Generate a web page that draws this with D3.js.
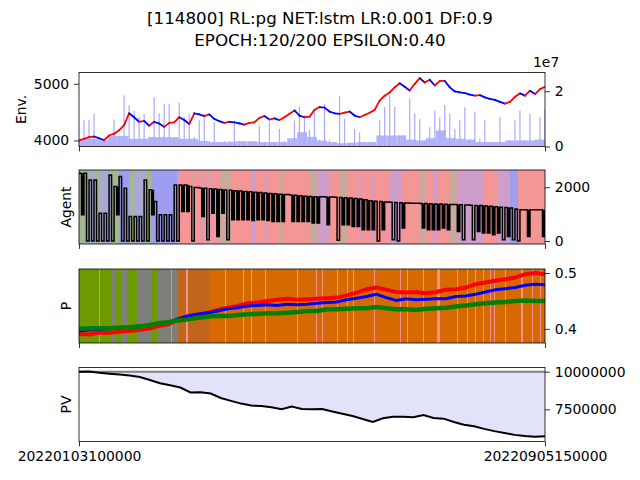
<!DOCTYPE html>
<html>
<head>
<meta charset="utf-8">
<script src="https://cdn.jsdelivr.net/npm/d3@7"></script>
<style>
  body { margin: 0; background: #fff; }
  text { font-family: "DejaVu Sans", sans-serif; }
</style>
</head>
<body>
<svg id="chart" width="640" height="480"></svg>
<script>
// ---- data ----
const titleLines = ["[114800] RL:pg NET:lstm LR:0.001 DF:0.9", "EPOCH:120/200 EPSILON:0.40"];
const dateLabels = ["20220103100000", "20220905150000"];
const STEPS = 466;

// Env. panel: close price and volume (millions)
const price = [4000,4030,4058,4070,4040,4005,4088,4120,4180,4270,4480,4410,4330,4345,4260,4330,4300,4240,4310,4320,
  4410,4360,4290,4480,4460,4430,4460,4380,4340,4310,4330,4320,4300,4280,4310,4320,4400,4430,4370,4390,
  4360,4410,4470,4530,4440,4410,4420,
  4540,4590,4580,4510,4480,4468,4490,4510,4440,4410,4450,4490,4540,4702,4789,4848,4936,5010,4947,4880,
  5000,5100,5023,5070,4970,5050,5050,4936,4865,4848,4835,4810,4790,4800,4760,4735,4715,4680,4650,4680,
  4770,4830,4790,4877,4819,4906,4947];
const volume = [2.5,9.5,9.5,11.9,2.5,2.0,3.5,9.8,4.0,18.5,14.9,13.0,10.7,11.9,3.5,17.9,12.0,15.5,15.5,3.0,
  15.8,10.7,11.9,3.5,9.5,11.9,2.0,8.8,1.5,2.0,1.5,8.2,2.0,1.5,2.0,1.5,7.6,1.5,8.8,1.5,
  6.4,2.0,2.0,9.5,14.5,11.3,6.0,12.5,2.5,15.5,2.5,1.2,18.2,10.0,1.2,6.3,5.1,1.5,1.5,1.5,
  9.5,14.3,18.5,14.3,4.0,4.0,17.4,11.9,10.0,2.2,7.0,13.0,10.6,15.0,12.0,6.4,9.5,14.2,2.8,12.5,
  2.8,9.5,1.5,1.5,10.6,1.5,2.2,9.5,13.0,2.2,11.9,2.2,10.6,13.3];
const volumeBase = [2.8,2.8,2.2,3.8,3.8,2.8,2.8,3.4,3.4,3.4,2.8,2.8,2.0,1.6,1.6,1.8,1.9,1.9,1.6,1.6,
  1.6,3.0,5.2,3.5,2.2,1.6,1.2,1.4,1.6,1.6,4.0,4.0,4.0,2.5,2.2,3.0,5.8,3.0,2.8,2.5,
  1.6,1.6,1.6,2.2,2.2,2.2,2.5];

// Agent panel: holdings, upper level and dips per column (null = no dip)
const agentHi = [2519,2519,2272,2272,1037,1037,2457,2025,2395,1963,914,914,914,2272,1902,1469,975,975,975,2087,
  2087,2087,2025,1988,1974,1959,1945,1930,1916,1901,1886,1872,1857,1843,1828,1814,1800,1785,1770,1756,
  1741,1727,1712,1698,1683,1669,1654,1650,1645,1640,1632,1625,1615,1605,1595,1580,1560,1530,1500,1475,
  1465,1455,1445,1435,1425,1415,1407,1402,1396,1391,1386,1380,1375,1370,1362,1355,1347,1340,1332,1325,
  1318,1305,1290,1275,1260,1245,1225,1190,1160,1160,1160,1160,1160];
const agentLo = [975,0,0,0,0,0,0,975,0,0,0,0,0,0,975,0,0,0,0,0,
  1099,1099,0,null,914,49,1037,173,1037,49,790,790,790,790,760,790,790,760,728,728,
  728,null,728,728,728,728,667,667,null,605,null,25,605,605,543,543,420,420,420,0,
  420,null,49,0,482,null,null,null,482,420,420,420,482,420,null,358,49,null,49,358,
  296,296,235,296,49,173,49,0,null,173,null,null,173];
// action regime behind the agent line: [startStep, endStep, key]
const agentBg = [[0,10,"g"],[10,17,"n"],[17,20,"g"],[20,33,"n"],[33,40,"g"],[40,50,"b"],[50,55,"g"],[55,67,"n"],
  [67,72,"g"],[72,98,"b"],[98,100,"p"],[100,113,"r"],[113,115,"m"],[115,122,"r"],[122,124,"p"],[124,131,"r"],
  [131,133,"p"],[133,140,"r"],[140,152,"m"],[152,173,"r"],[173,177,"p"],[177,186,"r"],[186,188,"p"],[188,200,"r"],
  [200,205,"m"],[205,231,"r"],[231,238,"m"],[238,251,"p"],[251,261,"r"],[261,268,"m"],[268,280,"r"],[280,283,"p"],
  [283,292,"r"],[292,295,"p"],[295,311,"r"],[311,323,"p"],[323,341,"r"],[341,346,"m"],[346,355,"r"],[355,358,"p"],
  [358,371,"r"],[371,378,"m"],[378,404,"p"],[404,418,"r"],[418,431,"p"],[431,439,"b"],[439,466,"r"]];

// P panel: three probabilities
const probRed = [0.391,0.390,0.393,0.393,0.395,0.396,0.398,0.400,0.405,0.408,0.417,0.423,0.426,0.429,0.434,0.438,
  0.441,0.446,0.447,0.450,0.452,0.454,0.452,0.453,0.454,0.455,0.456,0.460,0.465,0.471,0.474,0.470,
  0.466,0.465,0.466,0.464,0.466,0.470,0.471,0.474,0.480,0.483,0.486,0.489,0.492,0.498,0.500,0.498];
const probBlue = [0.396,0.398,0.399,0.400,0.402,0.403,0.405,0.407,0.410,0.412,0.418,0.423,0.426,0.429,0.432,0.436,
  0.438,0.441,0.442,0.443,0.442,0.444,0.443,0.444,0.446,0.447,0.448,0.452,0.455,0.458,0.462,0.456,
  0.451,0.454,0.452,0.453,0.454,0.454,0.458,0.459,0.462,0.466,0.470,0.472,0.474,0.478,0.480,0.479];
const probGreen = [0.400,0.401,0.401,0.401,0.402,0.403,0.404,0.406,0.410,0.412,0.415,0.417,0.420,0.422,0.423,0.423,
  0.425,0.426,0.427,0.428,0.428,0.429,0.430,0.432,0.432,0.435,0.435,0.436,0.437,0.437,0.439,0.437,
  0.435,0.435,0.434,0.436,0.437,0.438,0.440,0.442,0.444,0.446,0.447,0.448,0.450,0.451,0.450,0.450];
const probBg = [[0,20,"G"],[20,21,"L"],[21,32,"G"],[32,37,"Y"],[37,42,"G"],[42,48,"Y"],[48,58,"G"],[58,72,"Y"],
  [72,78,"G"],[78,92,"Y"],[92,93,"L"],[93,98,"Y"],[98,107,"B"],[107,109,"K"],[109,130,"B"],[130,466,"O"]];
const probPink = [[146,147],[164,165],[172,173],[186,187],[218,219],[237,238],[243,244],[258,259],[268,269],
  [274,275],[295,296],[321,322],[328,329],[344,345],[358,361],[378,379],[388,389],[396,397],[404,405],
  [411,412],[415,416],[426,427],[442,444],[453,454],[461,462]];

// PV panel: portfolio value (millions) and start value
const pv = [10.0,10.02,9.93,9.87,9.81,9.75,9.65,9.45,9.23,9.1,8.95,8.62,8.64,8.55,8.25,8.06,7.88,7.75,7.72,7.64,
  7.5,7.68,7.52,7.5,7.52,7.35,7.2,7.05,6.86,6.66,6.9,7.0,7.0,6.98,7.12,6.92,6.88,6.66,6.47,6.38,
  6.2,6.05,5.93,5.8,5.72,5.67,5.71];
const pvStart = 10.0;

// ---- drawing ----
const agentColors = { g: "#a2b88e", b: "#9e9def", r: "#f49696", m: "#c9a99b", p: "#cf9dc9", n: "#a8aad0" };
const probColors = { G: "#6c9a00", Y: "#7f7f7a", O: "#d66a00", K: "#f4908f", B: "#c0661c", L: "#8aaed0" };

const svg = d3.select("#chart");
const left = 79, right = 545;
const panels = [
  { top: 72.5, bot: 146.5 },
  { top: 170, bot: 244 },
  { top: 269, bot: 343 },
  { top: 367.5, bot: 441.5 },
];
const FS = "13.9px";
const x = d3.scaleLinear().domain([0, STEPS]).range([left, right]);
const at = (i, n) => x((i * STEPS) / (n - 1));

svg.selectAll("text.title")
  .data(titleLines)
  .join("text")
  .attr("class", "title")
  .attr("x", 320)
  .attr("y", (d, i) => 24 + i * 22)
  .attr("text-anchor", "middle")
  .style("font-size", "16.7px")
  .text((d) => d);

panels.forEach((p, i) => {
  svg.append("clipPath").attr("id", "clip" + i)
    .append("rect").attr("x", left).attr("y", p.top).attr("width", right - left).attr("height", p.bot - p.top);
});

function styleAxis(g) {
  g.select(".domain").remove();
  g.selectAll(".tick line").attr("stroke", "#000").attr("stroke-width", 0.8);
  g.selectAll(".tick text").style("font-size", FS).style("font-family", "DejaVu Sans").attr("fill", "#000");
}

function rightAxis(p, scale, ticks, fmt) {
  svg.append("g")
    .attr("transform", `translate(${right},0)`)
    .call(d3.axisRight(scale).tickValues(ticks).tickSize(4.9).tickPadding(4.9).tickFormat(fmt))
    .call(styleAxis);
}

function bottomAxis(p, labels) {
  svg.append("g")
    .attr("transform", `translate(0,${p.bot})`)
    .call(d3.axisBottom(x).tickValues([0, STEPS]).tickSize(4.9).tickPadding(4.9)
      .tickFormat((d, i) => (labels ? labels[i] : "")))
    .call(styleAxis);
}

function frame(p) {
  svg.append("rect")
    .attr("x", left).attr("y", p.top)
    .attr("width", right - left).attr("height", p.bot - p.top)
    .attr("fill", "none").attr("stroke", "#000").attr("stroke-width", 0.8);
}

function yLabel(p, text, xpos) {
  svg.append("text")
    .attr("transform", `translate(${xpos},${(p.top + p.bot) / 2}) rotate(-90)`)
    .attr("text-anchor", "middle")
    .style("font-size", FS)
    .text(text);
}

// panel 1: Env.
{
  const p = panels[0];
  const yPrice = d3.scaleLinear().domain([3894, 5199]).range([p.bot, p.top]);
  const yVol = d3.scaleLinear().domain([0, 26.8e6]).range([p.bot, p.top]);
  const g = svg.append("g").attr("clip-path", "url(#clip0)");
  const bw = STEPS / volumeBase.length;

  g.selectAll("rect.base")
    .data(volumeBase)
    .join("rect")
    .attr("class", "base")
    .attr("x", (d, i) => x(i * bw))
    .attr("width", x(bw) - x(0))
    .attr("y", (d) => yVol(d * 1e6))
    .attr("height", (d) => p.bot - yVol(d * 1e6))
    .attr("fill", "#b4b4fb");

  g.selectAll("rect.vol")
    .data(volume)
    .join("rect")
    .attr("class", "vol")
    .attr("x", (d, i) => at(i, volume.length) - 0.6)
    .attr("width", 1.2)
    .attr("y", (d) => yVol(d * 1e6))
    .attr("height", (d) => p.bot - yVol(d * 1e6))
    .attr("fill", "#aaaaff");

  g.selectAll("line.px")
    .data(d3.pairs(price))
    .join("line")
    .attr("class", "px")
    .attr("x1", (d, i) => at(i, price.length))
    .attr("x2", (d, i) => at(i + 1, price.length))
    .attr("y1", (d) => yPrice(d[0]))
    .attr("y2", (d) => yPrice(d[1]))
    .attr("stroke", (d) => (d[1] >= d[0] ? "#ff0000" : "#0000ff"))
    .attr("stroke-width", 1.8)
    .attr("stroke-linecap", "round");

  svg.append("g")
    .attr("transform", `translate(${left},0)`)
    .call(d3.axisLeft(yPrice).tickValues([4000, 5000]).tickSize(4.9).tickPadding(4.9).tickFormat(d3.format("d")))
    .call(styleAxis);
  rightAxis(p, yVol, [0, 2e7], (d) => d / 1e7);
  svg.append("text").attr("x", 533).attr("y", 67).style("font-size", FS).text("1e7");
  bottomAxis(p, null);
  frame(p);
  yLabel(p, "Env.", 26);
}

// panel 2: Agent
{
  const p = panels[1];
  const y = d3.scaleLinear().domain([-110, 2640]).range([p.bot, p.top]);
  const g = svg.append("g").attr("clip-path", "url(#clip1)");
  g.selectAll("rect.bg")
    .data(agentBg)
    .join("rect")
    .attr("x", (d) => x(d[0]))
    .attr("width", (d) => x(d[1]) - x(d[0]) + 0.3)
    .attr("y", p.top)
    .attr("height", p.bot - p.top)
    .attr("fill", (d) => agentColors[d[2]]);

  const cw = STEPS / agentHi.length;
  // partial sells flip back and forth too fast to resolve: shown as solid blocks
  const dips = agentHi
    .map((hi, i) => ({ i, hi, lo: agentLo[i] }))
    .filter((d) => d.lo !== null && d.lo >= 100 && d.lo < d.hi);
  g.selectAll("rect.dip")
    .data(dips)
    .join("rect")
    .attr("class", "dip")
    .attr("x", (d) => x(d.i * cw + cw / 2))
    .attr("width", x(cw / 2) - x(0))
    .attr("y", (d) => y(d.hi))
    .attr("height", (d) => y(d.lo) - y(d.hi))
    .attr("fill", "#000");

  const pts = [];
  agentHi.forEach((hi, i) => {
    pts.push([i * cw, hi]);
    pts.push([i * cw + cw / 2, agentLo[i] ?? hi]);
  });
  pts.push([STEPS, agentHi[agentHi.length - 1]]);
  g.append("path")
    .datum(pts)
    .attr("fill", "none")
    .attr("stroke", "#000")
    .attr("stroke-width", 1.5)
    .attr("d", d3.line().x((d) => x(d[0])).y((d) => y(d[1])).curve(d3.curveStepAfter));

  rightAxis(p, y, [0, 2000], d3.format("d"));
  bottomAxis(p, null);
  frame(p);
  yLabel(p, "Agent", 71);
}

// panel 3: P
{
  const p = panels[2];
  const y = d3.scaleLinear().domain([0.3747, 0.5072]).range([p.bot, p.top]);
  const g = svg.append("g").attr("clip-path", "url(#clip2)");
  g.selectAll("rect.bg")
    .data(probBg)
    .join("rect")
    .attr("x", (d) => x(d[0]))
    .attr("width", (d) => x(d[1]) - x(d[0]) + 0.3)
    .attr("y", p.top)
    .attr("height", p.bot - p.top)
    .attr("fill", (d) => probColors[d[2]]);
  g.selectAll("rect.pink")
    .data(probPink)
    .join("rect")
    .attr("x", (d) => x(d[0]))
    .attr("width", (d) => x(d[1]) - x(d[0]))
    .attr("y", p.top)
    .attr("height", p.bot - p.top)
    .attr("fill", probColors.K);

  const series = [
    { values: probRed, color: "#ff0000", w: 4 },
    { values: probBlue, color: "#0000ff", w: 3 },
    { values: probGreen, color: "#008000", w: 4.5 },
  ];
  series.forEach((s) => {
    g.append("path")
      .datum(s.values)
      .attr("fill", "none")
      .attr("stroke", s.color)
      .attr("stroke-width", s.w)
      .attr("d", d3.line().x((d, i) => at(i, s.values.length)).y((d) => y(d)));
  });

  rightAxis(p, y, [0.4, 0.5], (d) => d.toFixed(1));
  bottomAxis(p, null);
  frame(p);
  yLabel(p, "P", 71);
}

// panel 4: PV
{
  const p = panels[3];
  const y = d3.scaleLinear().domain([5.36e6, 10.28e6]).range([p.bot, p.top]);
  const g = svg.append("g").attr("clip-path", "url(#clip3)");
  g.append("path")
    .datum(pv)
    .attr("fill", "#e2e2fb")
    .attr("d", d3.area().x((d, i) => at(i, pv.length)).y0(y(pvStart * 1e6)).y1((d) => y(d * 1e6)));
  g.append("line")
    .attr("x1", left).attr("x2", right)
    .attr("y1", y(pvStart * 1e6)).attr("y2", y(pvStart * 1e6))
    .attr("stroke", "#808080").attr("stroke-width", 2);
  g.append("path")
    .datum(pv)
    .attr("fill", "none")
    .attr("stroke", "#000")
    .attr("stroke-width", 2)
    .attr("d", d3.line().x((d, i) => at(i, pv.length)).y((d) => y(d * 1e6)));

  rightAxis(p, y, [7.5e6, 10e6], d3.format("d"));
  bottomAxis(p, dateLabels);
  frame(p);
  yLabel(p, "PV", 71);
}
</script>
</body>
</html>
